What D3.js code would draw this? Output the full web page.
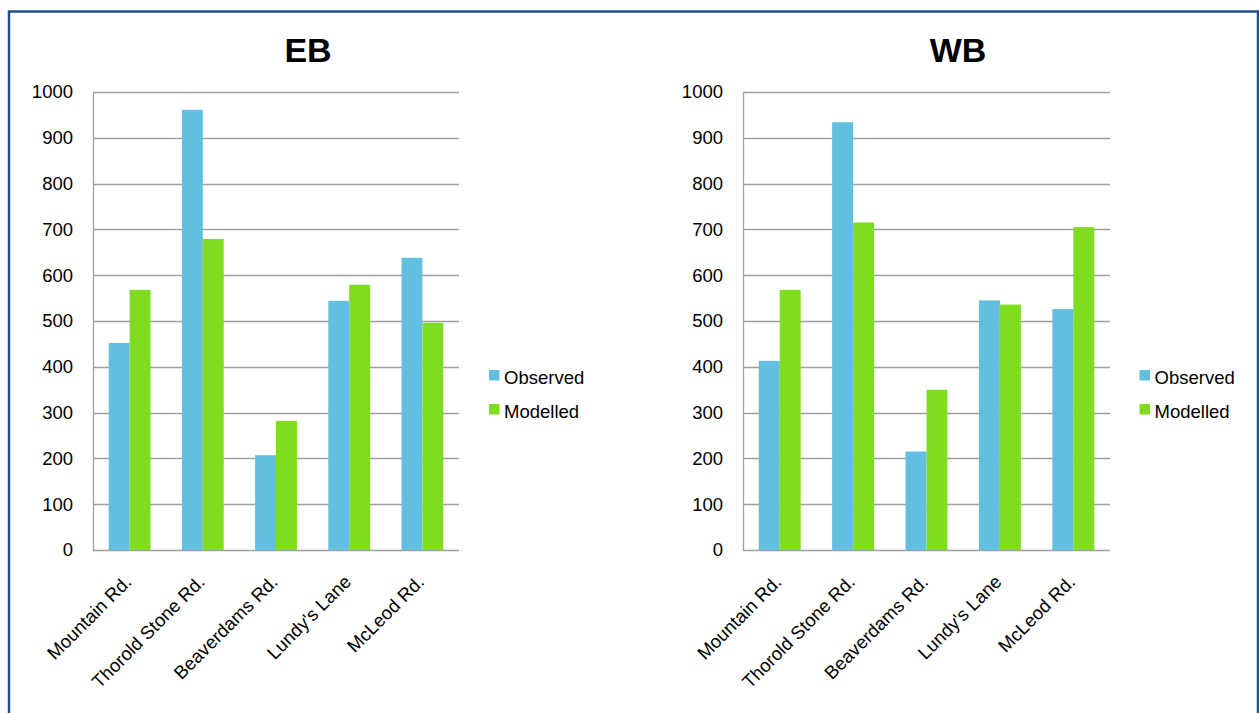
<!DOCTYPE html>
<html>
<head>
<meta charset="utf-8">
<script src="https://cdn.jsdelivr.net/npm/d3@7"></script>
<style>
  body { margin: 0; background: #fff; }
  svg { display: block; font-family: "Liberation Sans", Arial, sans-serif; }
</style>
</head>
<body>
<div id="chart"></div>
<script>
const W = 1259;
const H = 713;

// data
const roads = ["Mountain Rd.", "Thorold Stone Rd.", "Beaverdams Rd.", "Lundy's Lane", "McLeod Rd."];
const seriesNames = ["Observed", "Modelled"];
const seriesColors = ["#63bfe0", "#80dc20"];
const yTicks = [0, 100, 200, 300, 400, 500, 600, 700, 800, 900, 1000];
const ebObserved = [452, 961, 207, 544, 638];
const ebModelled = [568, 679, 282, 579, 496];
const wbObserved = [413, 934, 215, 545, 526];
const wbModelled = [568, 715, 350, 536, 705];

const svg = d3.select("#chart").append("svg")
    .attr("width", W)
    .attr("height", H);

// frame
svg.append("rect")
    .attr("x", 9)
    .attr("y", 11.5)
    .attr("width", 1249)
    .attr("height", H + 20)
    .attr("fill", "none")
    .attr("stroke", "#22508c")
    .attr("stroke-width", 2.5);

function drawPanel(title, obs, mod, left, right, titleX, legendX) {
    const top = 92, bottom = 550;
    const g = svg.append("g");

    const x0 = d3.scaleBand()
        .domain(roads)
        .range([left, right])
        .paddingInner(3 / 7)
        .paddingOuter(1.5 / 7);

    const x1 = d3.scaleBand()
        .domain(seriesNames)
        .range([0, x0.bandwidth()]);

    const y = d3.scaleLinear()
        .domain([0, 1000])
        .range([bottom, top]);

    // gridlines
    g.selectAll(".grid")
        .data(yTicks)
        .enter()
        .append("line")
        .attr("x1", left)
        .attr("x2", right)
        .attr("y1", d => Math.round(y(d)) + 0.5)
        .attr("y2", d => Math.round(y(d)) + 0.5)
        .attr("stroke", "#a0a0a0")
        .attr("stroke-width", 1.3);

    // y axis
    const yAxis = d3.axisLeft(y).tickValues(yTicks).tickFormat(d3.format("d")).tickSize(0).tickPadding(20);
    const ya = g.append("g")
        .attr("transform", `translate(${left},0)`)
        .call(yAxis);
    ya.select(".domain").attr("stroke", "#a0a0a0").attr("stroke-width", 1.3);
    ya.selectAll("text")
        .attr("font-size", "18.5px")
        .attr("fill", "#000")
        .attr("font-family", "Liberation Sans, Arial, sans-serif");

    // bars
    const rows = roads.map((r, i) => ({ road: r, values: [obs[i], mod[i]] }));
    const grp = g.selectAll(".grp")
        .data(rows)
        .enter()
        .append("g")
        .attr("transform", d => `translate(${x0(d.road)},0)`);

    grp.selectAll("rect")
        .data(d => d.values.map((v, j) => ({ name: seriesNames[j], value: v, j: j })))
        .enter()
        .append("rect")
        .attr("x", d => x1(d.name))
        .attr("y", d => y(d.value))
        .attr("width", x1.bandwidth())
        .attr("height", d => bottom - y(d.value))
        .attr("fill", d => seriesColors[d.j]);

    // x labels
    g.selectAll(".xl")
        .data(roads)
        .enter()
        .append("text")
        .attr("transform", d => `translate(${x0(d) + x0.bandwidth() / 2 + 3},583) rotate(-45)`)
        .attr("text-anchor", "end")
        .attr("font-size", "18.5px")
        .attr("fill", "#000")
        .text(d => d);

    // title
    g.append("text")
        .attr("x", titleX)
        .attr("y", 62)
        .attr("text-anchor", "middle")
        .attr("font-size", "34px")
        .attr("font-weight", "bold")
        .attr("fill", "#000")
        .text(title);

    // legend
    const lg = g.selectAll(".lg")
        .data(seriesNames)
        .enter()
        .append("g")
        .attr("transform", (d, i) => `translate(${legendX},${370 + i * 34})`);
    lg.append("rect")
        .attr("width", 10.5)
        .attr("height", 10.5)
        .attr("fill", (d, i) => seriesColors[i]);
    lg.append("text")
        .attr("x", 15)
        .attr("y", 13.5)
        .attr("font-size", "18.5px")
        .attr("fill", "#000")
        .text(d => d);
}

drawPanel("EB", ebObserved, ebModelled, 93, 459, 308, 489);
drawPanel("WB", wbObserved, wbModelled, 743, 1110, 958, 1139.5);
</script>
</body>
</html>
